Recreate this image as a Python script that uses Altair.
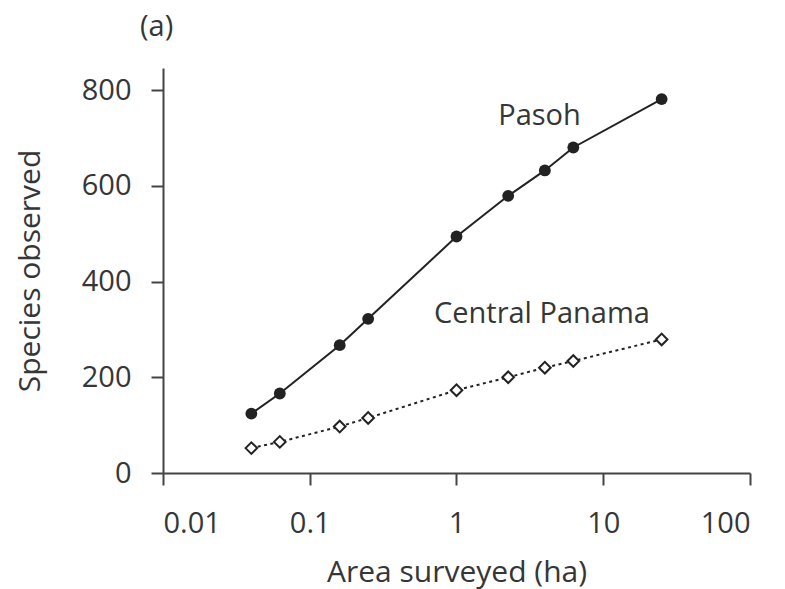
import altair as alt
import pandas as pd

# ---- data ----
area_ha = [0.04, 0.0625, 0.16, 0.25, 1, 2.25, 4, 6.25, 25]
pasoh_species = [124, 166, 267, 322, 494, 579, 632, 680, 781]
panama_species = [52, 65, 97, 115, 173, 200, 220, 234, 279]

x_ticks = [0.01, 0.1, 1, 10, 100]
y_ticks = [0, 200, 400, 600, 800]

label_text = ["Pasoh", "Central Panama"]
label_area = [3.68, 3.82]
label_species = [727, 314]

panel_label = ["(a)"]

FONT = "Open Sans"
TEXT = "#363636"
INK = "#222222"

pasoh_df = pd.DataFrame({"area": area_ha, "species": pasoh_species})
panama_df = pd.DataFrame({"area": area_ha, "species": panama_species})
labels_df = pd.DataFrame({"area": label_area, "species": label_species, "text": label_text})
panel_df = pd.DataFrame({"text": panel_label})

x_enc = alt.X(
    "area:Q",
    scale=alt.Scale(type="log", domain=[0.01, 100], nice=False),
    axis=alt.Axis(values=x_ticks, format="~g", title="Area surveyed (ha)",
                  labelPadding=24, titlePadding=19),
)
y_enc = alt.Y(
    "species:Q",
    scale=alt.Scale(domain=[0, 846], nice=False, zero=True),
    axis=alt.Axis(values=y_ticks, title="Species observed",
                  labelPadding=20, titlePadding=36),
)

pasoh_line = alt.Chart(pasoh_df).mark_line(color=INK, strokeWidth=2).encode(x=x_enc, y=y_enc)
pasoh_pts = alt.Chart(pasoh_df).mark_point(
    shape="circle", filled=True, color=INK, size=140, opacity=1
).encode(x=x_enc, y=y_enc)

panama_line = alt.Chart(panama_df).mark_line(
    color=INK, strokeWidth=2, strokeDash=[3, 3.5]
).encode(x=x_enc, y=y_enc)
panama_pts = alt.Chart(panama_df).mark_point(
    shape="diamond", filled=False, fill="white", fillOpacity=1, stroke=INK,
    strokeWidth=2, size=135, opacity=1
).encode(x=x_enc, y=y_enc)

labels = alt.Chart(labels_df).mark_text(
    font=FONT, fontSize=29, align="center", baseline="alphabetic", color=TEXT
).encode(x=x_enc, y=y_enc, text="text:N")

panel = alt.Chart(panel_df).mark_text(
    font=FONT, fontSize=29, align="left", baseline="alphabetic", color=TEXT
).encode(x=alt.value(-23), y=alt.value(-32), text="text:N")

chart = (
    alt.layer(panama_line, panama_pts, pasoh_line, pasoh_pts, labels, panel)
    .properties(
        width=587,
        height=405,
        autosize=alt.AutoSizeParams(type="none"),
        padding={"left": 155, "top": 60, "right": 27, "bottom": 116},
    )
    .configure_view(stroke=None)
    .configure_axis(
        grid=False,
        domainColor="#444444",
        domainWidth=2,
        tickColor="#444444",
        tickWidth=2,
        tickSize=12,
        labelFont=FONT,
        labelFontSize=29,
        labelColor=TEXT,
        titleFont=FONT,
        titleFontSize=30,
        titleFontWeight="normal",
        titleColor=TEXT,
    )
)

chart.save("out.html", embed_options={"renderer": "svg", "actions": False})
